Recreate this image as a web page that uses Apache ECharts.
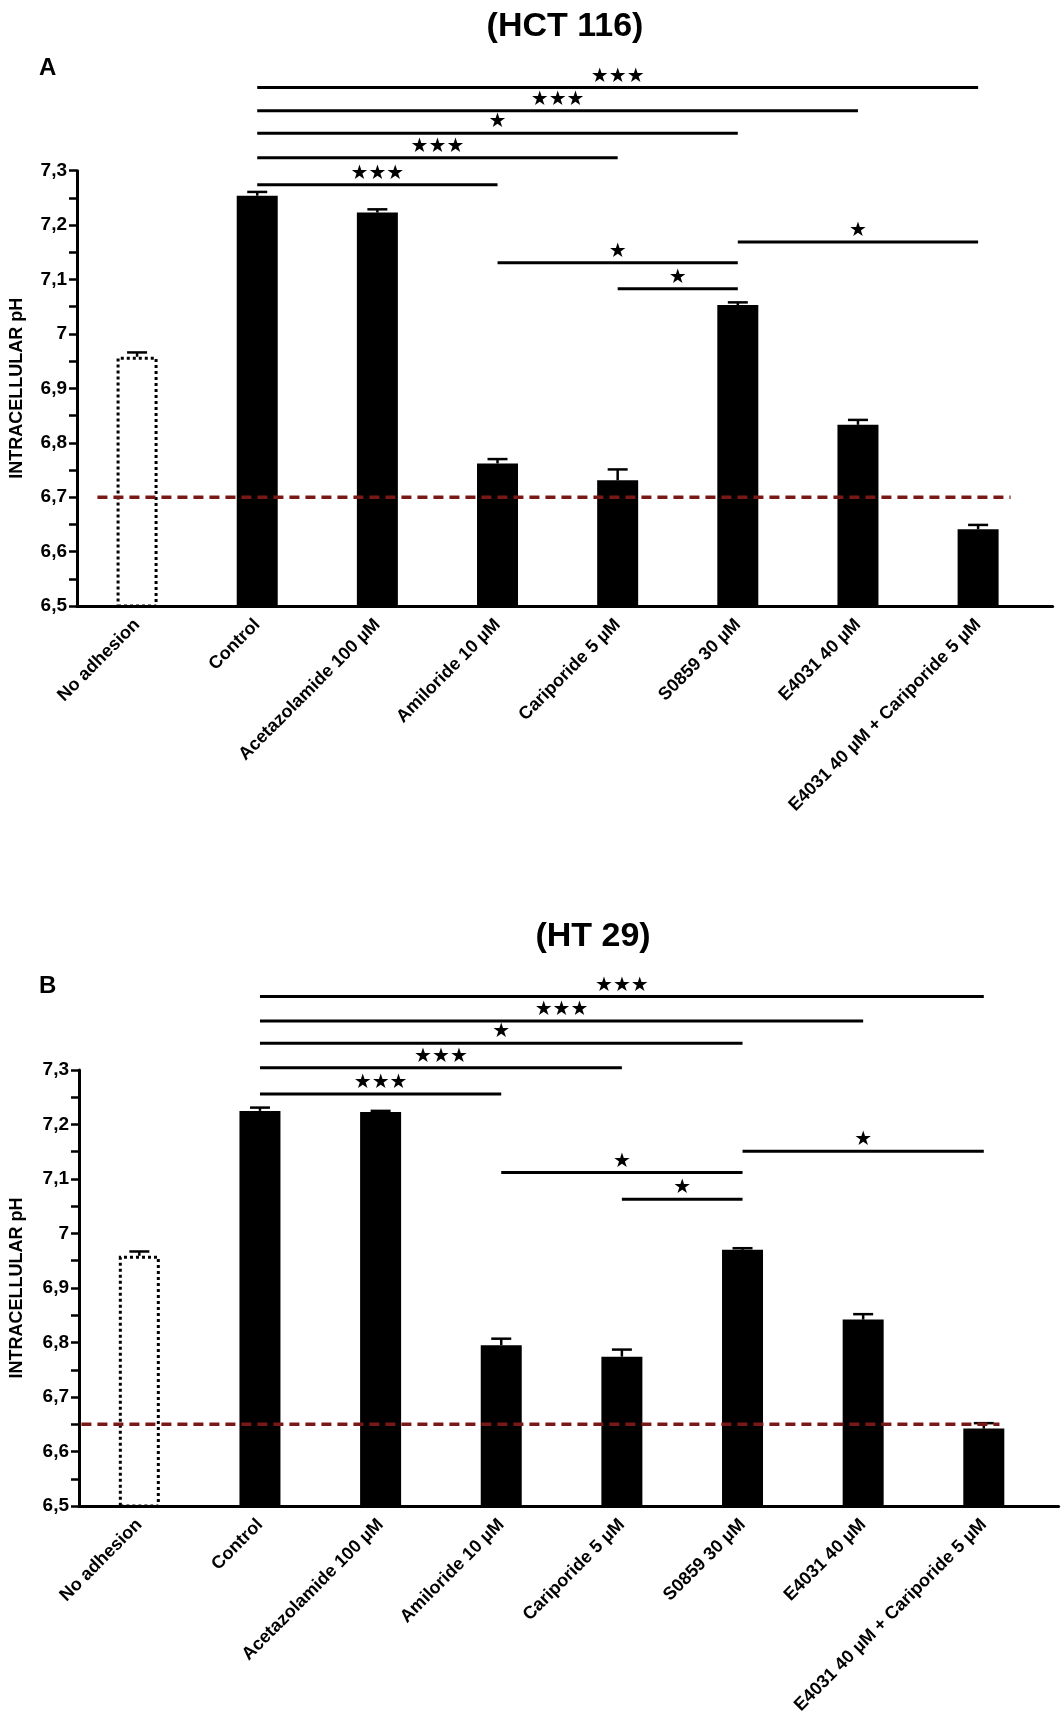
<!DOCTYPE html>
<html>
<head>
<meta charset="utf-8">
<title>Intracellular pH - HCT 116 / HT 29</title>
<script src="https://cdn.jsdelivr.net/npm/echarts@6.0.0/dist/echarts.min.js"></script>
<style>
    html, body { margin: 0; padding: 0; background: #fff; }
    #phChart { width: 1064px; height: 1735px; }
</style>
</head>
<body>
<div id="phChart"></div>
<script>
// groups (x axis)
var categories = ['No adhesion', 'Control', 'Acetazolamide 100 µM', 'Amiloride 10 µM',
    'Cariporide 5 µM', 'S0859 30 µM', 'E4031 40 µM', 'E4031 40 µM + Cariporide 5 µM'];

// y ticks
var yTicks = [6.5, 6.6, 6.7, 6.8, 6.9, 7, 7.1, 7.2, 7.3];

// (A) HCT 116 : mean pH and SEM
var phA  = [6.958, 7.254, 7.223, 6.762, 6.731, 7.053, 6.833, 6.641];
var errA = [0.008, 0.007, 0.006, 0.008, 0.020, 0.005, 0.009, 0.008];
var baselineA = 6.7;

// (B) HT 29
var phB  = [6.959, 7.225, 7.223, 6.795, 6.774, 6.970, 6.842, 6.642];
var errB = [0.008, 0.006, 0.002, 0.012, 0.013, 0.003, 0.010, 0.010];
var baselineB = 6.65;

// significance: [group from, group to, stars]
var sigPairs = [[1, 3, '***'], [1, 4, '***'], [1, 5, '*'], [1, 6, '***'], [1, 7, '***'],
    [3, 5, '*'], [4, 5, '*'], [5, 7, '*']];
// height of each bracket, in pH units
var sigLevelA = [7.274, 7.324, 7.369, 7.410, 7.453, 7.131, 7.083, 7.169];
var sigLevelB = [7.256, 7.304, 7.349, 7.390, 7.435, 7.112, 7.063, 7.151];

var FONT = 'Liberation Sans, Arial, sans-serif';

function fmtPh(v) {
    return String(Math.round(v * 10) / 10).replace('.', ',');
}

function makeAxes(gi) {
    var xAxis = {
        type: 'value', gridIndex: gi, min: -0.5, max: 7.62,
        axisLine: {show: true, onZero: false, lineStyle: {color: '#000', width: 3}},
        axisTick: {show: false},
        splitLine: {show: false},
        axisLabel: {
            customValues: categories.map(function (c, i) { return i; }),
            formatter: function (v) { return categories[v]; },
            rotate: 45, margin: 16, color: '#000',
            fontFamily: FONT, fontWeight: 'bold', fontSize: 18
        }
    };
    var yAxis = {
        type: 'value', gridIndex: gi, min: 6.5, max: 7.3, interval: 0.1,
        name: 'INTRACELLULAR pH', nameLocation: 'middle', nameRotate: 90,
        nameGap: gi === 0 ? 51 : 53,
        nameTextStyle: {color: '#000', fontFamily: FONT, fontWeight: 'bold', fontSize: 18},
        axisLine: {show: true, onZero: false, lineStyle: {color: '#000', width: 3}},
        axisTick: {show: true, inside: false, length: 8, lineStyle: {color: '#000', width: 2.5}},
        minorTick: {show: true, splitNumber: 2, length: 8, lineStyle: {color: '#000', width: 2.5}},
        splitLine: {show: false},
        minorSplitLine: {show: false},
        axisLabel: {
            customValues: yTicks,
            formatter: fmtPh, margin: 10, color: '#000',
            fontFamily: FONT, fontWeight: 'bold', fontSize: 19
        }
    };
    return {x: xAxis, y: yAxis};
}

function makeSeries(gi, ph, err, levels, baseline, lineFrom, lineTo) {
    var barData = ph.map(function (v, i) {
        if (i === 0) {
            // cells without adhesion: open dotted bar
            return {value: [i, v], itemStyle: {color: 'rgba(255,255,255,0)', borderColor: '#000',
                borderType: 'dotted', borderWidth: 3}};
        }
        return [i, v];
    });
    var errData = ph.map(function (v, i) { return [i, v, v + err[i]]; });
    var sigData = sigPairs.map(function (p, k) { return [p[0], p[1], levels[k]]; });

    return [
        {
            type: 'bar', xAxisIndex: gi, yAxisIndex: gi,
            barWidth: 41, z: 2,
            itemStyle: {color: '#000'},
            data: barData
        },
        {
            // error bars (upper SEM only)
            type: 'custom', xAxisIndex: gi, yAxisIndex: gi, z: 3, clip: false,
            encode: {x: 0, y: [1, 2]},
            renderItem: function (params, api) {
                var base = api.coord([api.value(0), api.value(1)]);
                var top = api.coord([api.value(0), api.value(2)]);
                return {
                    type: 'group',
                    children: [
                        {type: 'line', shape: {x1: base[0], y1: base[1], x2: top[0], y2: top[1]},
                            style: {stroke: '#000', lineWidth: 2.5}},
                        {type: 'line', shape: {x1: top[0] - 10, y1: top[1], x2: top[0] + 10, y2: top[1]},
                            style: {stroke: '#000', lineWidth: 2.5}}
                    ]
                };
            },
            data: errData
        },
        {
            // significance brackets drawn above the plot area
            type: 'custom', xAxisIndex: gi, yAxisIndex: gi, z: 3, clip: false,
            encode: {x: [0, 1], y: 2},
            renderItem: function (params, api) {
                var p1 = api.coord([api.value(0), api.value(2)]);
                var p2 = api.coord([api.value(1), api.value(2)]);
                var stars = sigPairs[params.dataIndex][2].replace(/\*/g, '\u2605');
                return {
                    type: 'group',
                    children: [
                        {type: 'line', shape: {x1: p1[0], y1: p1[1], x2: p2[0], y2: p2[1]},
                            style: {stroke: '#000', lineWidth: 3}},
                        {type: 'text', style: {text: stars, x: (p1[0] + p2[0]) / 2, y: p1[1] - 1,
                            align: 'center', verticalAlign: 'bottom', fill: '#000',
                            font: '20px DejaVu Sans'}}
                    ]
                };
            },
            data: sigData
        },
        {
            // reference pH (dashed)
            type: 'line', xAxisIndex: gi, yAxisIndex: gi, z: 5,
            showSymbol: false, symbol: 'none', silent: true,
            lineStyle: {color: '#7a1818', width: 3.5, type: [10, 6]},
            data: [[lineFrom, baseline], [lineTo, baseline]]
        }
    ];
}

var axA = makeAxes(0);
var axB = makeAxes(1);

var option = {
    backgroundColor: '#fff',
    animation: false,
    grid: [
        {left: 71, top: 170.7, width: 981.6, height: 435.3},
        {left: 78.3, top: 1070, width: 980.3, height: 436}
    ],
    xAxis: [axA.x, axB.x],
    yAxis: [axA.y, axB.y],
    graphic: [
        {type: 'text', x: 565, y: 26.5, style: {text: '(HCT 116)', align: 'center', verticalAlign: 'middle',
            fill: '#000', font: 'bold 34px ' + FONT}},
        {type: 'text', x: 39, y: 68, style: {text: 'A', verticalAlign: 'middle',
            fill: '#000', font: 'bold 24px ' + FONT}},
        {type: 'text', x: 593, y: 936.5, style: {text: '(HT 29)', align: 'center', verticalAlign: 'middle',
            fill: '#000', font: 'bold 34px ' + FONT}},
        {type: 'text', x: 39, y: 986, style: {text: 'B', verticalAlign: 'middle',
            fill: '#000', font: 'bold 24px ' + FONT}}
    ],
    series: makeSeries(0, phA, errA, sigLevelA, baselineA, -0.33, 7.27)
        .concat(makeSeries(1, phB, errB, sigLevelB, baselineB, -0.48, 7.13))
};

var myChart = echarts.init(document.getElementById('phChart'));
myChart.setOption(option);

window.onresize = function () {
    setTimeout(function () {
        myChart.resize();
    }, 50);
};
</script>
</body>
</html>
